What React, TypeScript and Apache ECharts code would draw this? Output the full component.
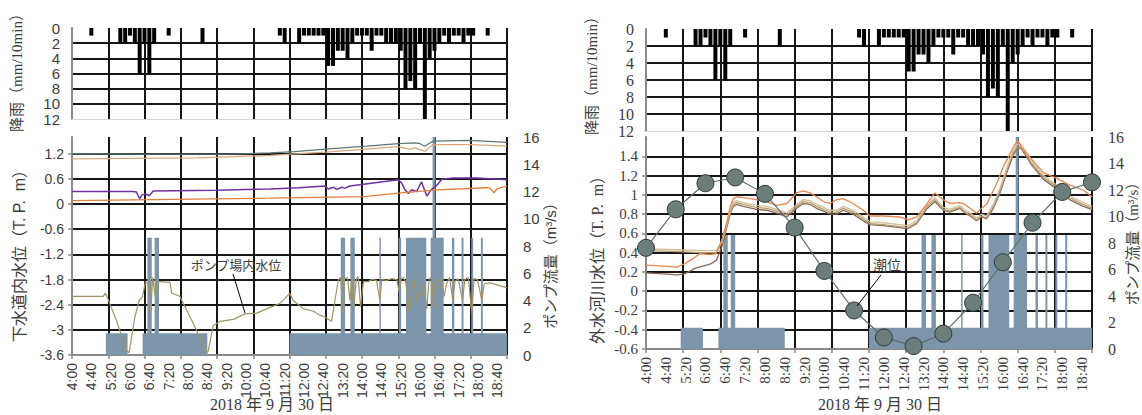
import React, { useEffect, useRef } from "react";
import * as echarts from "echarts";

type Pt = [number, number];

// time in minutes after midnight (4:00 = 240, 19:00 = 1140)
const timeLabels = ["4:00","4:40","5:20","6:00","6:40","7:20","8:00","8:40","9:20","10:00","10:40","11:20","12:00","12:40","13:20","14:00","14:40","15:20","16:00","16:40","17:20","18:00","18:40"];

const rain: Pt[] = [[280,1],[340,2],[350,2],[360,1],[370,2],[380,6],[390,2],[400,6],[410,2],[440,1],[510,2],[670,1],[680,2],[710,2],[720,1],[730,1],[740,1],[750,1],[760,1],[770,5],[780,5],[790,3],[800,3],[810,4],[820,2],[830,1],[840,1],[850,1],[860,3],[870,1],[880,1],[890,2],[900,2],[910,2],[920,3],[930,8],[940,7],[950,8],[960,2],[970,12],[980,4],[990,3],[1000,2],[1010,1],[1020,2],[1030,1],[1040,1],[1050,2],[1060,1],[1070,1],[1100,1]];

const pumpFlow: Pt[] = [[240,0],[310,1.6],[355,0],[386,1.6],[396,8.6],[405,1.6],[411,8.6],[420,1.6],[520,0],[690,1.6],[796,8.6],[805,1.6],[816,8.6],[825,1.6],[876,8.6],[879,1.6],[916,8.6],[921,1.6],[931,8.6],[973,1.6],[982,8.6],[986,16],[992,8.6],[1009,1.6],[1026,8.6],[1031,1.6],[1046,8.6],[1050,1.6],[1066,8.6],[1070,1.6],[1086,8.6],[1090,1.6],[1140,1.6]];

const sewerTeal: Pt[] = [[240,1.2],[400,1.19],[560,1.19],[650,1.22],[700,1.25],[764,1.31],[850,1.38],[915,1.44],[950,1.46],[960,1.44],[970,1.38],[978,1.44],[988,1.5],[1063,1.52],[1140,1.47]];
const sewerTan: Pt[] = [[240,1.08],[500,1.1],[650,1.16],[764,1.24],[915,1.37],[930,1.33],[940,1.31],[950,1.34],[960,1.3],[970,1.26],[985,1.4],[1000,1.42],[1063,1.42],[1140,1.38]];
const sewerPurple: Pt[] = [[240,0.3],[366,0.3],[373,0.29],[380,0.13],[385,0.22],[392,0.24],[400,0.2],[408,0.31],[539,0.33],[650,0.36],[710,0.39],[764,0.43],[770,0.36],[781,0.4],[788,0.35],[798,0.4],[805,0.38],[815,0.43],[915,0.58],[922,0.5],[929,0.34],[936,0.25],[943,0.34],[953,0.3],[963,0.53],[974,0.19],[984,0.35],[995,0.45],[1005,0.59],[1029,0.62],[1077,0.62],[1140,0.58]];
const sewerOrange: Pt[] = [[240,0.08],[650,0.14],[843,0.18],[915,0.26],[995,0.34],[1098,0.39],[1105,0.38],[1113,0.27],[1119,0.36],[1133,0.41],[1140,0.42]];
const wellLevel: Pt[] = [[240,-2.2],[305,-2.2],[309,-2.12],[314,-2.25],[332,-2.78],[353,-3.5],[358,-3.55],[370,-2.7],[379,-2.3],[386,-2.2],[392,-1.85],[397,-1.9],[403,-2.6],[407,-1.75],[412,-2.2],[416,-1.85],[443,-1.87],[446,-2.12],[463,-2.2],[491,-2.85],[519,-3.55],[522,-3.5],[532,-2.9],[546,-2.8],[574,-2.75],[598,-2.62],[622,-2.6],[643,-2.5],[670,-2.37],[680,-2.26],[690,-2.13],[698,-2.3],[719,-2.5],[739,-2.55],[753,-2.65],[764,-2.7],[777,-2.8],[784,-2.3],[791,-1.8],[796,-1.75],[800,-2.55],[804,-1.78],[810,-1.75],[815,-2.3],[819,-1.8],[823,-2.5],[828,-1.8],[832,-1.72],[837,-2.45],[843,-1.85],[853,-1.85],[860,-1.8],[870,-1.82],[877,-2.3],[881,-1.8],[891,-1.82],[901,-1.78],[912,-1.8],[917,-2.1],[921,-1.78],[926,-1.75],[931,-1.9],[938,-2.6],[943,-2.0],[948,-1.8],[953,-2.3],[958,-2.1],[963,-1.9],[968,-2.0],[974,-2.5],[979,-1.78],[984,-1.75],[989,-2.5],[995,-1.85],[1001,-1.78],[1006,-1.9],[1010,-2.2],[1015,-1.9],[1021,-1.75],[1028,-2.3],[1032,-1.85],[1039,-1.78],[1048,-2.3],[1053,-1.8],[1060,-1.75],[1067,-2.6],[1072,-1.78],[1079,-1.8],[1088,-2.3],[1093,-1.9],[1105,-1.88],[1126,-1.95],[1140,-2.0]];

const riverOrange: Pt[] = [[240,0.27],[275,0.26],[303,0.25],[320,0.29],[335,0.34],[349,0.39],[369,0.38],[382,0.39],[393,0.53],[403,0.71],[410,0.88],[416,0.96],[423,0.98],[436,0.97],[463,0.95],[483,0.93],[504,0.89],[524,0.91],[544,1.02],[557,1.04],[571,1.02],[584,0.98],[598,0.93],[611,0.91],[625,0.95],[638,0.96],[658,0.91],[678,0.84],[692,0.78],[719,0.78],[752,0.77],[769,0.74],[786,0.77],[806,0.9],[823,1.02],[840,0.95],[853,0.91],[873,0.92],[884,0.9],[894,0.86],[907,0.81],[917,0.86],[927,0.9],[948,1.12],[961,1.29],[974,1.42],[984,1.52],[991,1.56],[1001,1.47],[1018,1.37],[1042,1.23],[1069,1.17],[1095,1.1],[1122,1.05],[1140,0.98]];
const riverTanA: Pt[] = [[240,0.44],[303,0.43],[349,0.42],[382,0.42],[393,0.52],[403,0.7],[410,0.84],[416,0.92],[423,0.94],[436,0.92],[463,0.89],[483,0.88],[504,0.85],[524,0.81],[544,0.9],[557,0.95],[571,0.94],[584,0.9],[598,0.87],[611,0.84],[625,0.84],[638,0.88],[658,0.84],[678,0.77],[692,0.72],[719,0.71],[752,0.69],[769,0.68],[786,0.73],[806,0.89],[823,0.97],[840,0.87],[853,0.85],[873,0.89],[884,0.84],[894,0.81],[907,0.76],[917,0.8],[927,0.78],[941,0.9],[955,1.08],[968,1.28],[981,1.46],[988,1.52],[995,1.53],[1001,1.49],[1018,1.36],[1042,1.2],[1069,1.1],[1095,0.99],[1122,0.92],[1140,0.88]];
const riverTanB: Pt[] = [[240,0.42],[303,0.41],[349,0.4],[382,0.4],[393,0.5],[403,0.68],[410,0.82],[416,0.9],[423,0.92],[436,0.9],[463,0.87],[483,0.86],[504,0.83],[524,0.79],[544,0.88],[557,0.93],[571,0.92],[584,0.88],[598,0.85],[611,0.82],[625,0.82],[638,0.86],[658,0.82],[678,0.75],[692,0.7],[719,0.69],[752,0.67],[769,0.66],[786,0.71],[806,0.87],[823,0.95],[840,0.85],[853,0.83],[873,0.87],[884,0.82],[894,0.79],[907,0.74],[917,0.78],[927,0.76],[941,0.88],[955,1.05],[968,1.25],[981,1.43],[988,1.49],[995,1.5],[1001,1.46],[1018,1.33],[1042,1.18],[1069,1.08],[1095,0.97],[1122,0.9],[1140,0.86]];
const riverBrown: Pt[] = [[240,0.19],[275,0.18],[303,0.17],[318,0.18],[340,0.24],[369,0.28],[382,0.32],[393,0.46],[403,0.66],[410,0.8],[416,0.88],[423,0.9],[436,0.88],[463,0.85],[483,0.84],[504,0.81],[524,0.77],[544,0.86],[557,0.91],[571,0.9],[584,0.86],[598,0.83],[611,0.8],[625,0.8],[638,0.84],[658,0.8],[678,0.73],[692,0.69],[719,0.68],[752,0.66],[769,0.65],[786,0.7],[806,0.85],[823,0.93],[840,0.84],[853,0.82],[873,0.86],[884,0.81],[894,0.78],[907,0.73],[917,0.77],[927,0.75],[941,0.86],[955,1.03],[968,1.23],[981,1.41],[988,1.47],[995,1.49],[1001,1.45],[1018,1.31],[1042,1.16],[1069,1.06],[1095,0.95],[1122,0.88],[1140,0.85]];
const tide: Pt[] = [[240,0.45],[300,0.85],[360,1.12],[420,1.18],[480,1.01],[540,0.66],[600,0.21],[660,-0.2],[720,-0.48],[780,-0.57],[840,-0.44],[900,-0.12],[960,0.3],[1020,0.71],[1080,1.03],[1140,1.13]];

const SANS = "'Liberation Sans', Arial, 'Noto Sans CJK JP', sans-serif";
const SERIF = "'Liberation Serif', 'Times New Roman', 'Noto Sans CJK JP', serif";
const GRID_BLACK = "#161616";
const AXIS_GRAY = "#8a8a8a";
const LABEL = "#3c3c3c";
const PUMP_BLUE = "#7d95aa";

const fmt = (v: number) => String(Math.round(v * 10) / 10);
const timeFmt = (v: number) => {
  const k = (v - 240) / 40;
  return Number.isInteger(k) && timeLabels[k] ? timeLabels[k] : "";
};

function panelAxes(rainGrid: number, mainGrid: number, font: string, fs: number, lv: { min: number; max: number; interval: number }) {
  const xAxis = [
    { type: "value", gridIndex: rainGrid, min: 240, max: 1140, position: "bottom", show: false },
    {
      type: "value", gridIndex: rainGrid, min: 0, max: 12, interval: 1, position: "bottom",
      axisLine: { show: true, lineStyle: { color: "#d4d4d4", width: 1 } },
      axisTick: { show: false }, axisLabel: { show: false },
      splitLine: { show: true, showMinLine: false, showMaxLine: true, lineStyle: { color: GRID_BLACK, width: 2 } },
    },
    {
      type: "value", gridIndex: mainGrid, min: 240, max: 1140, interval: 40, position: "bottom",
      axisLine: { show: false }, axisTick: { show: false }, splitLine: { show: false },
      axisLabel: { rotate: 90, margin: 8, fontSize: fs, fontFamily: font, color: LABEL, formatter: timeFmt, showMaxLabel: false },
    },
    {
      type: "value", gridIndex: mainGrid, min: 0, max: 12, interval: 1, position: "bottom",
      axisLine: { show: true, lineStyle: { color: AXIS_GRAY, width: 2 } },
      axisTick: { show: true, length: 4, lineStyle: { color: AXIS_GRAY, width: 1.5 } },
      axisLabel: { show: false },
      splitLine: { show: true, showMinLine: false, showMaxLine: true, lineStyle: { color: GRID_BLACK, width: 2 } },
    },
  ];
  const yAxis = [
    {
      type: "value", gridIndex: rainGrid, inverse: true, min: 0, max: 12, interval: 2,
      axisLine: { show: true, lineStyle: { color: AXIS_GRAY, width: 2 } },
      axisTick: { show: false },
      axisLabel: { fontSize: fs + 1, fontFamily: font, color: LABEL, margin: 12 },
      splitLine: { show: true, showMinLine: false, showMaxLine: false, lineStyle: { color: GRID_BLACK, width: 2 } },
    },
    {
      type: "value", gridIndex: mainGrid, min: lv.min, max: lv.max, interval: lv.interval,
      axisLine: { show: true, lineStyle: { color: AXIS_GRAY, width: 2 } },
      axisTick: { show: true, length: 4, lineStyle: { color: AXIS_GRAY, width: 1.5 } },
      axisLabel: { fontSize: fs, fontFamily: font, color: LABEL, margin: 8, formatter: fmt, showMaxLabel: false },
      splitLine: { show: true, showMinLine: false, showMaxLine: false, lineStyle: { color: GRID_BLACK, width: 2 } },
    },
    {
      type: "value", gridIndex: mainGrid, position: "right", min: 0, max: 16, interval: 2,
      axisLine: { show: false }, axisTick: { show: false }, splitLine: { show: false },
      axisLabel: { fontSize: fs + 1, fontFamily: font, color: LABEL, margin: 16 },
    },
  ];
  return { xAxis, yAxis };
}

const lineSeries = (data: Pt[], color: string, xi: number, yi: number, width = 1.3) => ({
  type: "line", data, xAxisIndex: xi, yAxisIndex: yi, symbol: "none", showSymbol: false,
  lineStyle: { color, width }, itemStyle: { color }, z: 3,
});

function buildOption() {
  const left = panelAxes(0, 1, SANS, 14, { min: -3.6, max: 1.6, interval: 0.6 });
  const right = panelAxes(2, 3, SERIF, 15, { min: -0.6, max: 1.6, interval: 0.2 });
  const txt = (x: number, y: number, text: string, font: string, rot = 0) => ({
    type: "text", x, y, rotation: rot, z: 100,
    style: { text, font, fill: LABEL, align: "center", verticalAlign: "middle" },
  });
  const R90 = Math.PI / 2;
  return {
    animation: false,
    backgroundColor: "#ffffff",
    grid: [
      { left: 72, top: 28, width: 435, height: 91 },
      { left: 72, top: 137, width: 435, height: 218 },
      { left: 646, top: 29, width: 446, height: 102 },
      { left: 646, top: 137, width: 446, height: 212 },
    ],
    xAxis: [...left.xAxis, ...right.xAxis],
    yAxis: [...left.yAxis, ...right.yAxis],
    series: [
      // left
      { type: "bar", data: rain, xAxisIndex: 0, yAxisIndex: 0, barWidth: 4, itemStyle: { color: "#000" } },
      { type: "line", data: pumpFlow, xAxisIndex: 2, yAxisIndex: 2, step: "end", symbol: "none", lineStyle: { width: 0, opacity: 0 }, areaStyle: { color: PUMP_BLUE, opacity: 1 }, z: 2 },
      lineSeries(sewerTeal, "#5d7676", 2, 1),
      lineSeries(sewerTan, "#d9a877", 2, 1),
      lineSeries(sewerPurple, "#7030a0", 2, 1, 1.5),
      lineSeries(sewerOrange, "#e07e3c", 2, 1),
      lineSeries(wellLevel, "#a09465", 2, 1, 1.2),
      // right
      { type: "bar", data: rain, xAxisIndex: 4, yAxisIndex: 3, barWidth: 4, itemStyle: { color: "#000" } },
      { type: "line", data: pumpFlow, xAxisIndex: 6, yAxisIndex: 5, step: "end", symbol: "none", lineStyle: { width: 0, opacity: 0 }, areaStyle: { color: PUMP_BLUE, opacity: 1 }, z: 2 },
      lineSeries(riverBrown, "#8b6552", 6, 4),
      lineSeries(riverTanB, "#b39c70", 6, 4),
      lineSeries(riverTanA, "#d2bd98", 6, 4),
      lineSeries(riverOrange, "#e8864f", 6, 4),
      {
        type: "line", data: tide, xAxisIndex: 6, yAxisIndex: 4, symbol: "circle", symbolSize: 17, clip: false, z: 4,
        lineStyle: { color: "#5d706d", width: 1.2 },
        itemStyle: { color: "#6c7e7b", borderColor: "#2e3a38", borderWidth: 1 },
      },
    ],
    graphic: [
      txt(17, 69, "降雨（mm/10min）", `15px ${SERIF}`, R90),
      txt(19, 252, "下水道内水位（T. P.  m）", `16px ${SANS}`, R90),
      txt(550, 262, "ポンプ流量（m³/s）", `15px ${SANS}`, R90),
      txt(592, 72, "降雨（mm/10min）", `15px ${SERIF}`, R90),
      txt(597, 256, "外水河川水位（T. P.  m）", `16px ${SERIF}`, R90),
      txt(1133, 240, "ポンプ流量（m³/s）", `15px ${SERIF}`, R90),
      txt(272, 404, "2018 年 9 月 30 日", `16px ${SERIF}`),
      txt(880, 404, "2018 年 9 月 30 日", `16px ${SERIF}`),
      txt(236, 265, "ポンプ場内水位", `13px ${SANS}`),
      txt(887, 265, "潮位", `14px ${SERIF}`),
      { type: "line", z: 100, shape: { x1: 233, y1: 274, x2: 245, y2: 313 }, style: { stroke: "#000", lineWidth: 1 } },
      { type: "line", z: 100, shape: { x1: 881, y1: 275, x2: 857, y2: 306 }, style: { stroke: "#000", lineWidth: 1 } },
    ],
  };
}

export default function App() {
  const ref = useRef<HTMLDivElement>(null);
  useEffect(() => {
    const el = ref.current;
    if (!el) return;
    const chart = echarts.init(el, null, { renderer: "svg" });
    chart.setOption(buildOption() as any);
    return () => chart.dispose();
  }, []);
  return (
    <div
      ref={ref}
      style={{ position: "fixed", left: 0, top: 0, width: 1142, height: 415, background: "#fff" }}
    />
  );
}
